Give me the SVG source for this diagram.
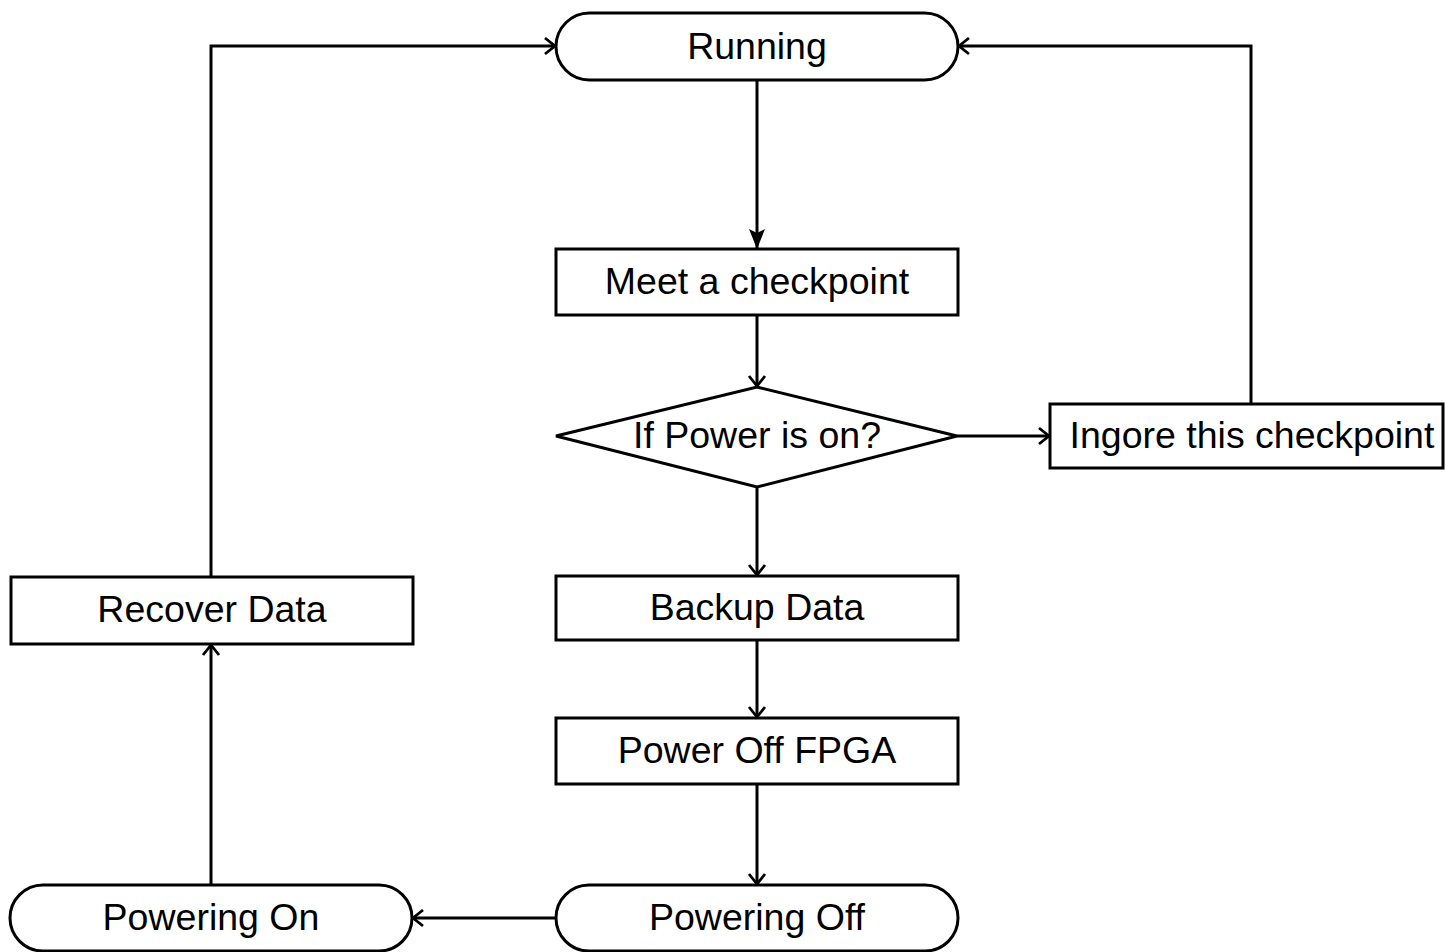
<svg xmlns="http://www.w3.org/2000/svg" width="1445" height="952" viewBox="0 0 1445 952">
  <style>
    .shape { fill: #ffffff; stroke: #000000; stroke-width: 3; }
    .label { font-family: "Liberation Sans", Arial, sans-serif; font-size: 37.5px; fill: #000000; text-anchor: middle; }
    .wire { fill: none; stroke: #000000; stroke-width: 3; }
    .open { marker-end: url(#vee); }
    .solid { marker-end: url(#tri); }
  </style>
  <defs>
    <marker id="vee" viewBox="0 0 12 20" refX="11" refY="10" markerWidth="12" markerHeight="20" orient="auto" markerUnits="userSpaceOnUse">
      <path d="M1,2 L11,10 L1,18" fill="none" stroke="#000000" stroke-width="2.8"/>
    </marker>
    <marker id="tri" viewBox="0 0 20 16" refX="19" refY="8" markerWidth="20" markerHeight="16" orient="auto" markerUnits="userSpaceOnUse">
      <path d="M0,0 L20,8 L0,16 L4,8 Z" fill="#000000"/>
    </marker>
  </defs>

  <g id="connectors">
    <path class="wire solid" d="M757,80 L757,248"/>
    <path class="wire open" d="M757,315 L757,386"/>
    <path class="wire open" d="M957,436 L1049,436"/>
    <path class="wire open" d="M1251,404 L1251,46 L959,46"/>
    <path class="wire open" d="M757,487 L757,575"/>
    <path class="wire open" d="M757,640 L757,717"/>
    <path class="wire open" d="M757,784 L757,884"/>
    <path class="wire open" d="M556,918 L413,918"/>
    <path class="wire open" d="M211,885 L211,645"/>
    <path class="wire open" d="M211,576 L211,46 L555,46"/>
  </g>

  <g id="running">
    <rect class="shape" x="556" y="13" width="402" height="67" rx="33.5" ry="33.5"/>
    <text class="label" x="757" y="59">Running</text>
  </g>
  <g id="meet-checkpoint">
    <rect class="shape" x="556" y="249" width="402" height="66"/>
    <text class="label" x="757" y="294">Meet a checkpoint</text>
  </g>
  <g id="power-check">
    <polygon class="shape" points="556,436 757,387 957,436 757,487"/>
    <text class="label" x="757" y="448">If Power is on?</text>
  </g>
  <g id="ignore-checkpoint">
    <rect class="shape" x="1050" y="404" width="393" height="64"/>
    <text class="label" x="1252" y="448">Ingore this checkpoint</text>
  </g>
  <g id="backup-data">
    <rect class="shape" x="556" y="576" width="402" height="64"/>
    <text class="label" x="757" y="620">Backup Data</text>
  </g>
  <g id="power-off-fpga">
    <rect class="shape" x="556" y="718" width="402" height="66"/>
    <text class="label" x="757" y="763">Power Off FPGA</text>
  </g>
  <g id="powering-off">
    <rect class="shape" x="556" y="885" width="402" height="66" rx="33" ry="33"/>
    <text class="label" x="757" y="930">Powering Off</text>
  </g>
  <g id="powering-on">
    <rect class="shape" x="10" y="885" width="402" height="66" rx="33" ry="33"/>
    <text class="label" x="211" y="930">Powering On</text>
  </g>
  <g id="recover-data">
    <rect class="shape" x="11" y="577" width="402" height="67"/>
    <text class="label" x="212" y="622">Recover Data</text>
  </g>
</svg>
